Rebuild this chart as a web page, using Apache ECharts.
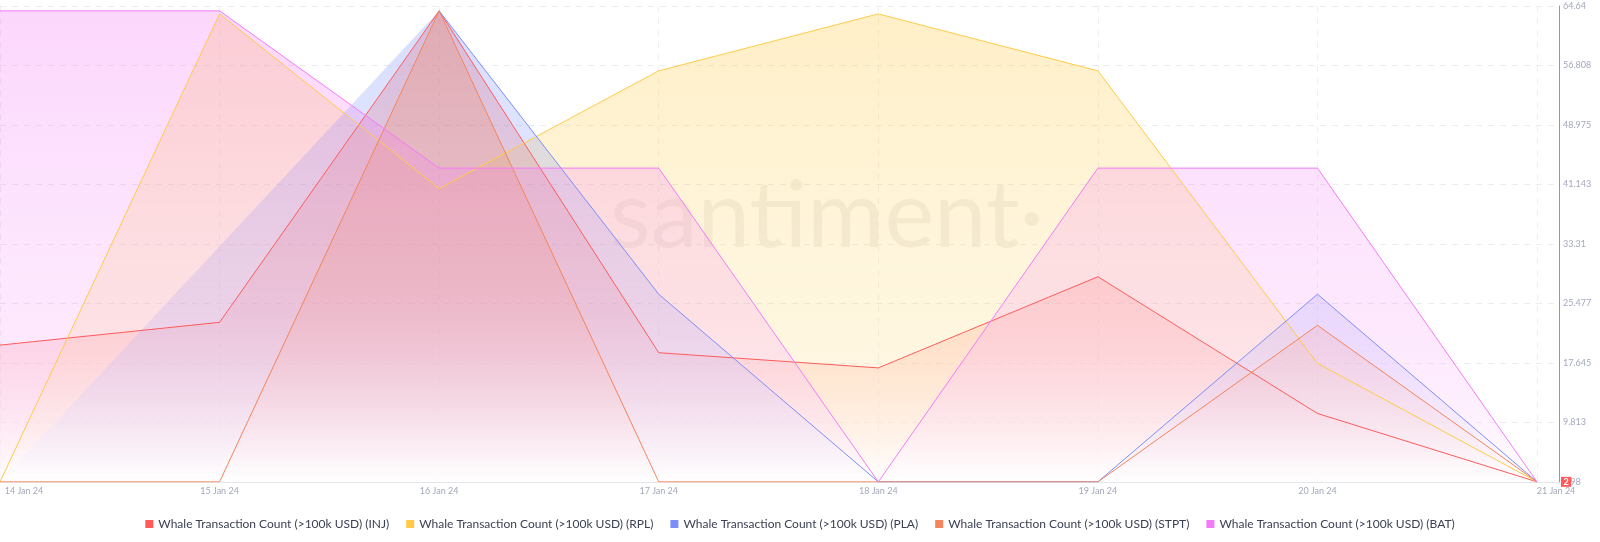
<!DOCTYPE html>
<html>
<head>
<meta charset="utf-8">
<script src="https://cdn.jsdelivr.net/npm/echarts@6/dist/echarts.min.js"></script>
<style>
  html, body { margin: 0; padding: 0; background: #fff; }
  #chart { width: 1600px; height: 542px; }
</style>
</head>
<body>
<div id="chart"></div>
<script>
// data
const dates = ['14 Jan 24', '15 Jan 24', '16 Jan 24', '17 Jan 24', '18 Jan 24', '19 Jan 24', '20 Jan 24', '21 Jan 24']
const injValues = [20, 23, 64, 19, 17, 29, 11, 2]
const rplValues = [2, 63.6, 40.6, 56.1, 63.6, 56.1, 17.6, 2]
const plaValues = [2, 33, 64, 26.7, 2, 2, 26.7, 2]
const stptValues = [2, 2, 64, 2, 2, 2, 22.6, 2]
const batValues = [64, 64, 43.3, 43.3, 2, 43.3, 43.3, 2]
const yTickLabels = ['1.98', '9.813', '17.645', '25.477', '33.31', '41.143', '48.975', '56.808', '64.64']
const yMin = 1.98
const yMax = 64.64

const font = 'Lato, "Liberation Sans", sans-serif'

function hexToRgba(hex, a) {
  const n = parseInt(hex.slice(1), 16)
  return 'rgba(' + (n >> 16) + ',' + ((n >> 8) & 255) + ',' + (n & 255) + ',' + a + ')'
}

// fill fades from the series colour to a washed white near the baseline
function fade(color) {
  return new echarts.graphic.LinearGradient(0, 0, 0, 1, [
    { offset: 0, color: hexToRgba(color, 0.3) },
    { offset: 0.55, color: hexToRgba(color, 0.18) },
    { offset: 1, color: 'rgba(255,255,255,0.4)' },
  ])
}

function makeSeries(name, color, values) {
  return {
    name: name,
    type: 'line',
    yAxisIndex: 0,
    symbol: 'none',
    color: color,
    lineStyle: { color: color, width: 1 },
    areaStyle: { color: fade(color), opacity: 1 },
    data: values.map((v, i) => [i, v]),
  }
}

const seriesArr = []
const inj = makeSeries('Whale Transaction Count (>100k USD) (INJ)', '#ff5b5b', injValues)
inj.clip = false
// red badge with the latest value, next to the axis
inj.markLine = {
  silent: true,
  symbol: ['none', 'none'],
  animation: false,
  lineStyle: { color: 'rgba(0,0,0,0)', width: 0 },
  label: {
    show: true,
    position: 'end',
    distance: 2,
    formatter: String(injValues[injValues.length - 1]),
    backgroundColor: '#ff5b5b',
    color: '#fff',
    fontSize: 9,
    fontWeight: 'bold',
    lineHeight: 9,
    padding: [1, 2.5, 0, 2.5],
    fontFamily: font,
  },
  data: [{ yAxis: injValues[injValues.length - 1] }],
}
seriesArr.push(inj)
seriesArr.push(makeSeries('Whale Transaction Count (>100k USD) (RPL)', '#ffcb47', rplValues))
const pla = makeSeries('Whale Transaction Count (>100k USD) (PLA)', '#7b8ef9', plaValues)
// line is not drawn before 16 Jan in the reference, only the fill
pla.lineStyle.color = new echarts.graphic.LinearGradient(0, 0, 1, 0, [
  { offset: 0, color: 'rgba(123,142,249,0)' },
  { offset: 2 / 7, color: 'rgba(123,142,249,0)' },
  { offset: 2 / 7, color: '#7b8ef9' },
  { offset: 1, color: '#7b8ef9' },
])
seriesArr.push(pla)
seriesArr.push(makeSeries('Whale Transaction Count (>100k USD) (STPT)', '#f4855a', stptValues))
seriesArr.push(makeSeries('Whale Transaction Count (>100k USD) (BAT)', '#f47bf7', batValues))

const myChart = echarts.init(document.getElementById('chart'))
myChart.setOption({
  animation: false,
  textStyle: { fontFamily: font },
  graphic: [
    {
      type: 'text',
      left: 610,
      top: 170,
      z: -1,
      silent: true,
      style: {
        text: 'santiment·',
        font: '400 94px Lato, sans-serif',
        fill: 'rgba(90,80,70,0.08)',
      },
    },
  ],
  legend: {
    top: 513,
    left: 'center',
    icon: 'rect',
    itemWidth: 8,
    itemHeight: 8,
    itemGap: 17,
    textStyle: { color: '#3c4154', fontSize: 12, fontFamily: font },
    data: seriesArr.map((s) => s.name),
  },
  grid: {
    left: 0,
    right: 41,
    top: 6,
    bottom: 60,
    containLabel: false,
    outerBoundsMode: 'none',
  },
  xAxis: {
    type: 'value',
    min: 0,
    max: 7.1,
    interval: 1,
    axisLine: { show: true, lineStyle: { color: '#e4e6ec' } },
    axisTick: { show: false },
    splitLine: { show: true, lineStyle: { color: '#efeff3', type: [6, 6] } },
    axisLabel: {
      color: '#a3a8b9',
      fontSize: 9,
      margin: 5,
      showMaxLabel: false,
      formatter: function (val) {
        if (!Number.isInteger(val) || val >= dates.length) return ''
        if (val === 0) return '{first|' + dates[val] + '}'
        if (val === dates.length - 1) return '{last|' + dates[val] + '}'
        return dates[val]
      },
      rich: {
        first: { padding: [0, 0, 0, 48], color: '#a3a8b9', fontSize: 9, fontFamily: font },
        last: { padding: [0, 0, 0, 38], color: '#a3a8b9', fontSize: 9, fontFamily: font },
      },
    },
  },
  yAxis: [
    {
      // scale the series are plotted on
      type: 'value',
      position: 'right',
      min: yMin,
      max: yMax,
      show: false,
      splitLine: { show: false },
    },
    {
      // visible tick labels, evenly spaced between yMin and yMax
      type: 'value',
      position: 'right',
      min: 0,
      max: yTickLabels.length - 1,
      interval: 1,
      axisLine: { show: true, lineStyle: { color: '#ff6b6b', width: 1 } },
      axisTick: { show: false },
      axisLabel: {
        color: '#a3a8bc',
        fontSize: 9,
        margin: 4,
        formatter: (v) => yTickLabels[v],
      },
      splitLine: { show: true, lineStyle: { color: '#ebecf0', type: [6, 6] } },
    },
  ],
  series: seriesArr,
})
</script>
</body>
</html>
